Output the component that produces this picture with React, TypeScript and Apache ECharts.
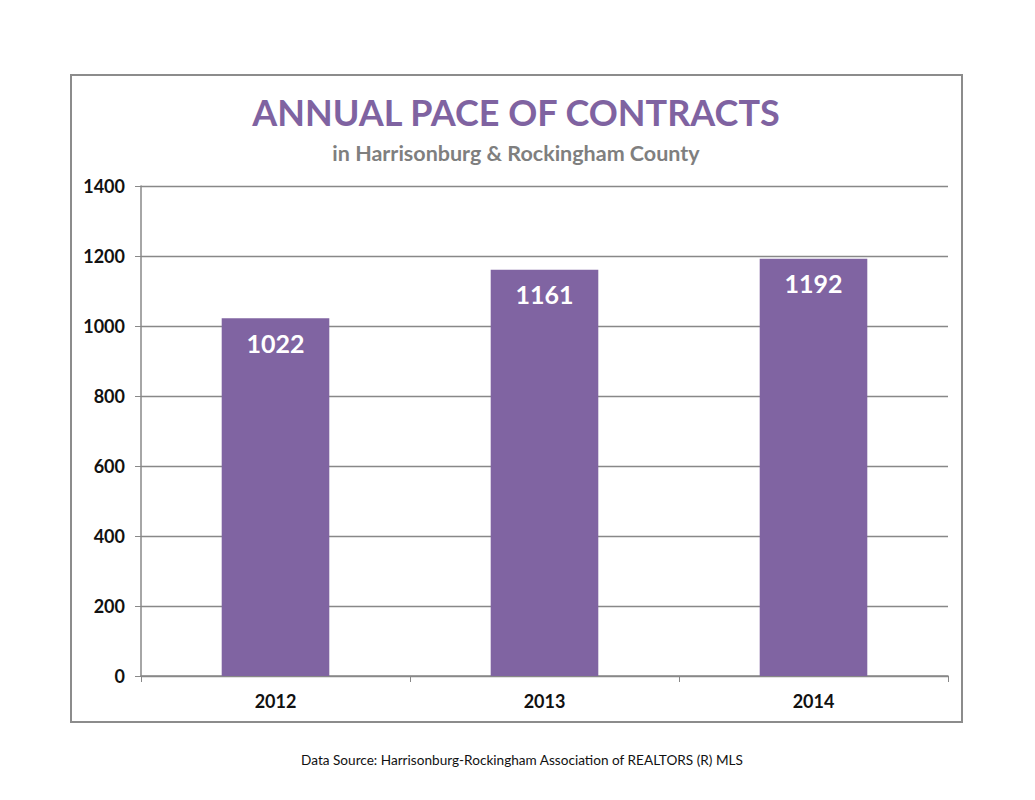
import React, { useEffect, useRef } from "react";
import * as echarts from "echarts";

const categories = ["2012", "2013", "2014"];
const contracts = [1022, 1161, 1192];
const yTicks = { min: 0, max: 1400, interval: 200 };

const FONT = "Lato, 'Open Sans', sans-serif";

export default function App() {
  const ref = useRef<HTMLDivElement>(null);
  useEffect(() => {
    if (!ref.current) return;
    const chart = echarts.init(ref.current, null, { renderer: "svg" });
    chart.setOption({
      animation: false,
      backgroundColor: "#ffffff",
      graphic: [
        {
          type: "rect",
          shape: { x: 71, y: 75, width: 891, height: 647 },
          style: { fill: "none", stroke: "#8c8c8c", lineWidth: 2 },
          silent: true,
        },
        {
          type: "text",
          x: 516,
          y: 112,
          style: {
            text: "ANNUAL PACE OF CONTRACTS",
            fill: "#7f63a1",
            font: `bold 36px ${FONT}`,
            textAlign: "center",
            textVerticalAlign: "middle",
          },
        },
        {
          type: "text",
          x: 516,
          y: 153,
          style: {
            text: "in Harrisonburg & Rockingham County",
            fill: "#7f7f7f",
            font: `bold 21.5px ${FONT}`,
            textAlign: "center",
            textVerticalAlign: "middle",
          },
        },
        {
          type: "text",
          x: 522,
          y: 760,
          style: {
            text: "Data Source: Harrisonburg-Rockingham Association of REALTORS (R) MLS",
            fill: "#111111",
            font: `13.6px ${FONT}`,
            textAlign: "center",
            textVerticalAlign: "middle",
          },
        },
      ],
      grid: { left: 141, right: 87, top: 186, bottom: 124, containLabel: false },
      xAxis: {
        type: "category",
        data: categories,
        axisLine: { lineStyle: { color: "#888888", width: 1.5 } },
        axisTick: { show: true, length: 6, lineStyle: { color: "#888888" } },
        axisLabel: {
          color: "#111",
          fontFamily: FONT,
          fontWeight: "bold",
          fontSize: 18,
          margin: 16,
        },
      },
      yAxis: {
        type: "value",
        min: yTicks.min,
        max: yTicks.max,
        interval: yTicks.interval,
        axisLine: { show: true, lineStyle: { color: "#888888", width: 1.5 } },
        axisTick: { show: true, length: 6, lineStyle: { color: "#888888" } },
        splitLine: { lineStyle: { color: "#888888", width: 1.3 } },
        axisLabel: {
          color: "#111",
          fontFamily: FONT,
          fontWeight: "bold",
          fontSize: 18,
          margin: 16,
          formatter: (v: number) => String(v),
        },
      },
      series: [
        {
          type: "bar",
          data: contracts,
          barWidth: "40%",
          itemStyle: { color: "#8064a2" },
          label: {
            show: true,
            position: "insideTop",
            distance: 12,
            color: "#ffffff",
            fontFamily: FONT,
            fontWeight: "bold",
            fontSize: 25,
          },
        },
      ],
    });
    return () => chart.dispose();
  }, []);
  return (
    <div
      ref={ref}
      style={{ position: "fixed", left: 0, top: 0, width: 1035, height: 800 }}
    />
  );
}
